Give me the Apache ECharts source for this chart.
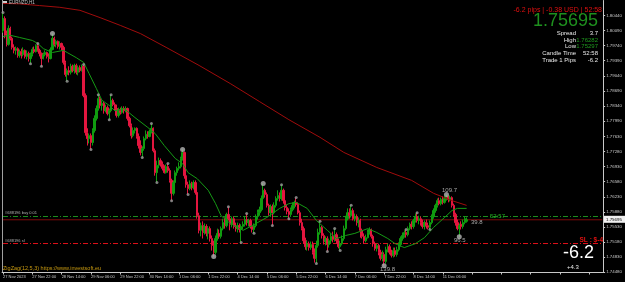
<!DOCTYPE html>
<html><head><meta charset="utf-8">
<script src="https://cdn.jsdelivr.net/npm/echarts@6/dist/echarts.min.js"></script>
<style>html,body{margin:0;padding:0;background:#000;overflow:hidden}#c{width:625px;height:282px}</style>
</head><body><div id="c"></div>
<script>
// x-axis tick labels, one every 16 hourly bars
const tickLabels = ['27 Nov 2023','27 Nov 22:00','28 Nov 14:00','29 Nov 06:00','29 Nov 22:00','30 Nov 14:00','1 Dec 06:00','1 Dec 22:00','4 Dec 14:00','5 Dec 06:00','5 Dec 22:00','6 Dec 14:00','7 Dec 06:00','7 Dec 22:00','8 Dec 14:00','11 Dec 06:00'];
// price scale labels
const priceTicks = [1.80440,1.80090,1.79740,1.79390,1.79040,1.78690,1.78340,1.77990,1.77630,1.77280,1.76930,1.76580,1.76230,1.75880,1.75530,1.75180,1.74830,1.74480];
// EURNZD H1 candles: [open, close, low, high]
const ohlc = [
[1.8009,1.8037,1.8004,1.8051],[1.8037,1.7998,1.7991,1.8042],[1.8002,1.7977,1.7972,1.8009],[1.7977,1.8014,1.7974,1.8021],[1.8014,1.7991,1.7986,1.8018],
[1.7991,1.7970,1.7965,1.7995],[1.7970,1.7963,1.7956,1.7977],[1.7963,1.7967,1.7953,1.7972],[1.7967,1.7951,1.7946,1.7970],[1.7951,1.7960,1.7946,1.7965],
[1.7960,1.7953,1.7944,1.7967],[1.7953,1.7963,1.7949,1.7970],[1.7963,1.7949,1.7944,1.7965],[1.7949,1.7956,1.7942,1.7963],[1.7956,1.7944,1.7937,1.7960],
[1.7944,1.7953,1.7932,1.7958],[1.7953,1.7965,1.7949,1.7970],[1.7965,1.7960,1.7956,1.7972],[1.7960,1.7974,1.7958,1.7977],[1.7974,1.7963,1.7960,1.7979],
[1.7963,1.7956,1.7949,1.7967],[1.7956,1.7944,1.7926,1.7958],[1.7944,1.7953,1.7942,1.7958],[1.7953,1.7958,1.7949,1.7963],[1.7958,1.7949,1.7944,1.7960],
[1.7949,1.7944,1.7935,1.7956],[1.7944,1.7965,1.7942,1.7970],[1.7965,1.7991,1.7963,1.8002],[1.7991,1.7977,1.7972,1.7995],[1.7977,1.7984,1.7970,1.7988],
[1.7984,1.7972,1.7967,1.7986],[1.7972,1.7979,1.7965,1.7984],[1.7979,1.7970,1.7963,1.7981],[1.7970,1.7935,1.7930,1.7974],[1.7935,1.7907,1.7902,1.7939],
[1.7907,1.7916,1.7891,1.7921],[1.7916,1.7912,1.7905,1.7926],[1.7912,1.7926,1.7907,1.7932],[1.7926,1.7916,1.7912,1.7930],[1.7916,1.7928,1.7909,1.7932],
[1.7928,1.7912,1.7907,1.7932],[1.7912,1.7923,1.7905,1.7928],[1.7923,1.7916,1.7912,1.7928],[1.7916,1.7926,1.7914,1.7930],[1.7926,1.7858,1.7854,1.7930],
[1.7858,1.7772,1.7765,1.7863],[1.7772,1.7758,1.7742,1.7782],[1.7758,1.7765,1.7747,1.7770],[1.7765,1.7749,1.7733,1.7770],[1.7749,1.7777,1.7742,1.7782],
[1.7777,1.7805,1.7772,1.7812],[1.7805,1.7828,1.7800,1.7835],[1.7828,1.7851,1.7823,1.7860],[1.7851,1.7835,1.7828,1.7856],[1.7835,1.7840,1.7823,1.7847],
[1.7840,1.7823,1.7816,1.7844],[1.7823,1.7830,1.7819,1.7837],[1.7830,1.7816,1.7812,1.7835],[1.7816,1.7823,1.7802,1.7828],[1.7823,1.7847,1.7819,1.7860],
[1.7847,1.7837,1.7833,1.7851],[1.7837,1.7828,1.7823,1.7842],[1.7828,1.7812,1.7807,1.7837],[1.7812,1.7823,1.7807,1.7830],[1.7823,1.7819,1.7814,1.7830],
[1.7819,1.7828,1.7816,1.7833],[1.7828,1.7823,1.7816,1.7833],[1.7823,1.7828,1.7819,1.7833],[1.7828,1.7805,1.7800,1.7830],[1.7805,1.7788,1.7784,1.7809],
[1.7788,1.7765,1.7758,1.7793],[1.7765,1.7777,1.7761,1.7784],[1.7777,1.7782,1.7770,1.7784],[1.7782,1.7763,1.7758,1.7784],[1.7763,1.7742,1.7735,1.7770],
[1.7742,1.7726,1.7719,1.7754],[1.7726,1.7735,1.7714,1.7740],[1.7735,1.7758,1.7730,1.7763],[1.7758,1.7768,1.7754,1.7777],[1.7768,1.7763,1.7758,1.7775],
[1.7763,1.7775,1.7761,1.7779],[1.7775,1.7782,1.7770,1.7793],[1.7782,1.7730,1.7726,1.7784],[1.7730,1.7679,1.7672,1.7735],[1.7679,1.7696,1.7656,1.7707],
[1.7696,1.7707,1.7689,1.7714],[1.7707,1.7698,1.7693,1.7712],[1.7698,1.7689,1.7684,1.7705],[1.7689,1.7679,1.7677,1.7696],[1.7679,1.7693,1.7677,1.7698],
[1.7693,1.7684,1.7679,1.7700],[1.7684,1.7661,1.7656,1.7689],[1.7661,1.7631,1.7614,1.7665],[1.7631,1.7656,1.7626,1.7661],[1.7656,1.7679,1.7649,1.7684],
[1.7679,1.7689,1.7672,1.7693],[1.7689,1.7693,1.7684,1.7703],[1.7693,1.7712,1.7689,1.7716],[1.7712,1.7726,1.7707,1.7733],[1.7726,1.7672,1.7665,1.7728],
[1.7672,1.7651,1.7644,1.7679],[1.7651,1.7642,1.7628,1.7658],[1.7642,1.7654,1.7638,1.7661],[1.7654,1.7644,1.7638,1.7658],[1.7644,1.7656,1.7640,1.7661],
[1.7656,1.7633,1.7628,1.7661],[1.7633,1.7579,1.7572,1.7638],[1.7579,1.7545,1.7538,1.7586],[1.7545,1.7556,1.7531,1.7563],[1.7556,1.7540,1.7526,1.7566],
[1.7540,1.7554,1.7535,1.7561],[1.7554,1.7538,1.7531,1.7559],[1.7538,1.7549,1.7524,1.7554],[1.7549,1.7526,1.7519,1.7554],[1.7526,1.7510,1.7498,1.7533],
[1.7510,1.7494,1.7484,1.7521],[1.7494,1.7526,1.7489,1.7533],[1.7526,1.7538,1.7521,1.7549],[1.7538,1.7531,1.7526,1.7547],[1.7531,1.7549,1.7526,1.7554],
[1.7549,1.7563,1.7545,1.7572],[1.7563,1.7556,1.7549,1.7575],[1.7556,1.7582,1.7552,1.7586],[1.7582,1.7572,1.7568,1.7600],[1.7572,1.7559,1.7545,1.7579],
[1.7559,1.7572,1.7552,1.7577],[1.7572,1.7554,1.7549,1.7577],[1.7554,1.7549,1.7542,1.7563],[1.7549,1.7556,1.7540,1.7563],[1.7556,1.7547,1.7540,1.7561],
[1.7547,1.7554,1.7517,1.7559],[1.7554,1.7559,1.7547,1.7566],[1.7559,1.7570,1.7554,1.7577],[1.7570,1.7563,1.7556,1.7584],[1.7563,1.7568,1.7554,1.7572],
[1.7568,1.7554,1.7549,1.7572],[1.7554,1.7547,1.7540,1.7561],[1.7547,1.7556,1.7538,1.7561],[1.7556,1.7577,1.7552,1.7582],[1.7577,1.7586,1.7570,1.7593],
[1.7586,1.7593,1.7579,1.7600],[1.7593,1.7619,1.7589,1.7626],[1.7619,1.7638,1.7612,1.7654],[1.7638,1.7628,1.7621,1.7642],[1.7628,1.7603,1.7598,1.7633],
[1.7603,1.7586,1.7579,1.7607],[1.7586,1.7600,1.7577,1.7605],[1.7600,1.7586,1.7556,1.7605],[1.7586,1.7603,1.7582,1.7610],[1.7603,1.7619,1.7598,1.7624],
[1.7619,1.7626,1.7614,1.7638],[1.7626,1.7619,1.7612,1.7633],[1.7619,1.7638,1.7614,1.7651],[1.7638,1.7614,1.7607,1.7642],[1.7614,1.7598,1.7591,1.7621],
[1.7598,1.7589,1.7582,1.7605],[1.7589,1.7582,1.7572,1.7596],[1.7582,1.7593,1.7577,1.7598],[1.7593,1.7603,1.7589,1.7610],[1.7603,1.7610,1.7596,1.7614],
[1.7610,1.7605,1.7600,1.7621],[1.7605,1.7586,1.7582,1.7610],[1.7586,1.7563,1.7556,1.7591],[1.7563,1.7549,1.7545,1.7572],[1.7549,1.7521,1.7514,1.7554],
[1.7521,1.7507,1.7500,1.7528],[1.7507,1.7514,1.7498,1.7521],[1.7514,1.7505,1.7498,1.7519],[1.7505,1.7512,1.7500,1.7519],[1.7512,1.7494,1.7489,1.7519],
[1.7494,1.7480,1.7470,1.7503],[1.7480,1.7510,1.7468,1.7521],[1.7510,1.7540,1.7505,1.7549],[1.7540,1.7552,1.7535,1.7566],[1.7552,1.7533,1.7526,1.7556],
[1.7533,1.7519,1.7512,1.7538],[1.7519,1.7526,1.7510,1.7531],[1.7526,1.7512,1.7496,1.7531],[1.7512,1.7521,1.7505,1.7526],[1.7521,1.7531,1.7514,1.7538],
[1.7531,1.7524,1.7517,1.7542],[1.7524,1.7535,1.7519,1.7549],[1.7535,1.7521,1.7514,1.7540],[1.7521,1.7507,1.7503,1.7526],[1.7507,1.7514,1.7498,1.7521],
[1.7514,1.7526,1.7510,1.7533],[1.7526,1.7549,1.7521,1.7556],[1.7549,1.7572,1.7545,1.7579],[1.7572,1.7586,1.7568,1.7596],[1.7586,1.7579,1.7572,1.7596],
[1.7579,1.7591,1.7575,1.7603],[1.7591,1.7572,1.7568,1.7596],[1.7572,1.7577,1.7566,1.7584],[1.7577,1.7563,1.7556,1.7582],[1.7563,1.7568,1.7552,1.7575],
[1.7568,1.7545,1.7528,1.7572],[1.7545,1.7531,1.7526,1.7549],[1.7531,1.7521,1.7514,1.7538],[1.7521,1.7528,1.7517,1.7535],[1.7528,1.7540,1.7526,1.7547],
[1.7540,1.7547,1.7535,1.7552],[1.7547,1.7531,1.7526,1.7549],[1.7531,1.7514,1.7507,1.7535],[1.7514,1.7503,1.7498,1.7519],[1.7503,1.7510,1.7496,1.7514],
[1.7510,1.7494,1.7487,1.7514],[1.7494,1.7480,1.7475,1.7500],[1.7480,1.7489,1.7473,1.7498],[1.7489,1.7473,1.7463,1.7494],[1.7473,1.7500,1.7468,1.7507],
[1.7500,1.7507,1.7494,1.7514],[1.7507,1.7494,1.7489,1.7512],[1.7494,1.7487,1.7482,1.7500],[1.7487,1.7498,1.7482,1.7505],[1.7498,1.7489,1.7484,1.7505],
[1.7489,1.7500,1.7484,1.7507],[1.7500,1.7512,1.7496,1.7517],[1.7512,1.7526,1.7507,1.7531],[1.7526,1.7533,1.7521,1.7540],[1.7533,1.7540,1.7528,1.7545],
[1.7540,1.7535,1.7528,1.7547],[1.7535,1.7549,1.7531,1.7554],[1.7549,1.7559,1.7545,1.7563],[1.7559,1.7554,1.7547,1.7566],[1.7554,1.7568,1.7549,1.7572],
[1.7568,1.7577,1.7563,1.7584],[1.7577,1.7568,1.7563,1.7586],[1.7568,1.7572,1.7559,1.7579],[1.7572,1.7563,1.7556,1.7577],[1.7563,1.7554,1.7549,1.7570],
[1.7554,1.7563,1.7547,1.7568],[1.7563,1.7556,1.7549,1.7570],[1.7556,1.7552,1.7547,1.7563],[1.7552,1.7563,1.7547,1.7568],[1.7563,1.7577,1.7559,1.7582],
[1.7577,1.7591,1.7572,1.7596],[1.7591,1.7603,1.7586,1.7607],[1.7603,1.7614,1.7598,1.7619],[1.7614,1.7607,1.7603,1.7621],[1.7607,1.7617,1.7603,1.7621],
[1.7617,1.7610,1.7605,1.7624],[1.7610,1.7619,1.7607,1.7626],[1.7619,1.7624,1.7614,1.7628],[1.7624,1.7617,1.7610,1.7626],[1.7617,1.7621,1.7612,1.7626],
[1.7621,1.7603,1.7598,1.7624],[1.7603,1.7582,1.7577,1.7607],[1.7582,1.7563,1.7556,1.7586],[1.7563,1.7549,1.7545,1.7570],[1.7549,1.7556,1.7530,1.7561],
[1.7559,1.7554,1.7547,1.7566],[1.7554,1.7563,1.7549,1.7570],[1.7563,1.7572,1.7559,1.7577],[1.7566,1.75695,1.7563,1.7575]
];
// slow moving average (dark red), [barIndex, value]
const maSlow = [[0,1.8072],[9,1.8071],[20,1.8067],[31,1.8063],[42,1.8056],[53,1.8039],[64,1.8021],[75,1.8002],[89,1.7970],[107,1.7928],[124,1.7886],[140,1.7844],[156,1.7802],[173,1.7761],[186,1.7726],[204,1.7691],[223,1.7661],[235,1.7631],[245,1.7614],[253,1.7603]];
// fast moving average (green), [barIndex, value]
const maFast = [[0,1.7995],[4,1.7998],[9,1.7993],[16,1.7986],[19,1.7979],[22,1.7967],[27,1.7958],[33,1.7963],[35,1.7958],[40,1.7946],[44,1.7935],[47,1.7909],[51,1.7874],[54,1.7847],[58,1.7835],[61,1.7823],[66,1.7828],[72,1.7807],[79,1.7784],[83,1.7770],[88,1.7742],[94,1.7712],[98,1.7700],[101,1.7679],[106,1.7665],[112,1.7638],[116,1.7607],[119,1.7579],[124,1.7561],[131,1.7545],[136,1.7556],[144,1.7575],[151,1.7596],[156,1.7607],[160,1.7610],[166,1.7596],[171,1.7568],[177,1.7545],[182,1.7526],[187,1.7533],[192,1.7538],[199,1.7549],[204,1.7540],[210,1.7526],[214,1.7514],[219,1.7505],[225,1.7514],[230,1.7528],[235,1.7552],[241,1.7575],[245,1.7591],[248,1.7596],[253,1.7596]];
// ZigZag swing markers
const zigzagMinor = [[0,1.8051],[15,1.7932],[19,1.7979],[21,1.7926],[35,1.7891],[44,1.7930],[48,1.7733],[52,1.7860],[58,1.7802],[59,1.7860],[76,1.7714],[81,1.7793],[84,1.7656],[90,1.7700],[92,1.7614],[101,1.7628],[123,1.7600],[130,1.7517],[133,1.7584],[137,1.7538],[147,1.7556],[152,1.7651],[156,1.7572],[160,1.7621],[171,1.7468],[173,1.7566],[177,1.7496],[181,1.7549],[184,1.7498],[190,1.7603],[220,1.7547],[226,1.7586],[233,1.7547]];
const zigzagMajor = [[27,1.8002],[98,1.7733],[115,1.7484],[142,1.7654],[208,1.7463],[242,1.7628],[249,1.7530]];
const entryPrice = 1.75771, bidPrice = 1.75695, slPrice = 1.75144;

const TOTAL_SLOTS = 328;
const cats = [];
for (let i = 0; i < TOTAL_SLOTS; i++) cats.push(String(i));

const GREEN = '#109c10', RED = '#e3163f', AX = '#c8c8c8';
const FONT = 'Liberation Sans, Arial, sans-serif';
const chart = echarts.init(document.getElementById('c'), null, {renderer: 'canvas'});

function txt(x, y, s, color, size, align, weight) {
  return {type: 'text', x: x, y: y, silent: true, z: 100,
    style: {text: s, fill: color, font: (weight ? weight + ' ' : '') + size + 'px ' + FONT, align: align || 'left', verticalAlign: 'middle'}};
}
function level(price, color, type) {
  return {type: 'line', data: [[0, price], [TOTAL_SLOTS - 1, price]], symbol: 'none', silent: true, z: 1,
    lineStyle: {color: color, width: 1, type: type, opacity: 1}, emphasis: {disabled: true}};
}

chart.setOption({
  backgroundColor: '#000',
  animation: false,
  grid: {left: 2, right: 21, top: 0.5, bottom: 9.5, containLabel: false},
  xAxis: {
    type: 'category', data: cats, boundaryGap: true,
    axisLine: {show: true, lineStyle: {color: AX, width: 1}},
    axisTick: {show: true, interval: 15, alignWithLabel: true, length: 2, lineStyle: {color: AX}},
    axisLabel: {interval: 15, color: AX, fontSize: 4, fontFamily: FONT, align: 'left', margin: 2,
      formatter: (v, idx) => (idx % 16 === 0 && tickLabels[idx / 16] !== undefined) ? tickLabels[idx / 16] : ''},
    splitLine: {show: false}
  },
  yAxis: {
    type: 'value', position: 'right', min: 1.74471, max: 1.80788, scale: true,
    axisLine: {show: true, lineStyle: {color: AX, width: 1}},
    axisTick: {show: true, length: 2, customValues: priceTicks, lineStyle: {color: AX}},
    axisLabel: {customValues: priceTicks, color: AX, fontSize: 4.4, fontFamily: FONT, margin: 3,
      formatter: v => v.toFixed(5)},
    splitLine: {show: false}
  },
  series: [
    level(entryPrice, '#1d8f1d', [5, 2, 1, 2]),
    level(bidPrice, '#7c0a0a', 'solid'),
    level(slPrice, '#e0101a', [5, 2, 1, 2]),
    {type: 'candlestick', data: ohlc, barWidth: 1.8, z: 2,
      itemStyle: {color: GREEN, color0: RED, borderColor: GREEN, borderColor0: RED, borderWidth: 1}},
    {type: 'line', data: maFast, symbol: 'none', z: 3, lineStyle: {color: '#159a15', width: 1}},
    {type: 'line', data: maSlow, symbol: 'none', z: 3, lineStyle: {color: '#a00c0c', width: 1}},
    {type: 'scatter', data: zigzagMinor, symbolSize: 3, z: 4, itemStyle: {color: '#9c9c9c'}},
    {type: 'scatter', data: zigzagMajor, symbolSize: 5, z: 4, itemStyle: {color: '#b4b4b4'}}
  ],
  graphic: [
    {type: 'line', shape: {x1: 2.5, y1: 0, x2: 2.5, y2: 272}, style: {stroke: '#a0a0a0', lineWidth: 1}, silent: true},
    {type: 'rect', shape: {x: 3, y: 1, width: 4, height: 3}, style: {fill: '#d0d0d0'}, silent: true},
    txt(9, 3, 'EURNZD,H1', '#c0c0c0', 4.5),
    txt(602, 10, '-6.2 pips | -0.38 USD | 52:58', '#e01010', 7, 'right'),
    txt(598, 21.5, '1.75695', '#1e901e', 18, 'right'),
    txt(576, 33.3, 'Spread', '#e8e8e8', 6, 'right'), txt(598, 33.3, '3.7', '#e8e8e8', 6, 'right'),
    txt(576, 40, 'High', '#e8e8e8', 6, 'right'), txt(598, 40, '1.76282', '#1e9a1e', 6, 'right'),
    txt(576, 46.7, 'Low', '#e8e8e8', 6, 'right'), txt(598, 46.7, '1.75297', '#1e9a1e', 6, 'right'),
    txt(576, 53.3, 'Candle Time', '#e8e8e8', 6, 'right'), txt(598, 53.3, '52:58', '#e8e8e8', 6, 'right'),
    txt(576, 60.7, 'Trade 1 Pips', '#e8e8e8', 6, 'right'), txt(598, 60.7, '-6.2', '#e8e8e8', 6, 'right'),
    txt(5, 213, '#688196 buy 0.01', '#b0b0b0', 4),
    txt(5, 240.5, '#688196 sl', '#b0b0b0', 4),
    txt(490, 216, '52:57', '#22b022', 6),
    txt(603, 240, 'SL : $-4', '#e01010', 6.5, 'right', 'bold'),
    txt(563, 253.5, '-6.2', '#ffffff', 18),
    txt(567, 267, '+4.3', '#e8e8e8', 6),
    txt(442, 190.7, '109.7', '#a8a8a8', 6),
    txt(471, 222.7, '39.8', '#a8a8a8', 6),
    txt(454, 240, '96.5', '#a8a8a8', 6),
    txt(380, 269, '139.8', '#a8a8a8', 6),
    txt(3, 268, 'ZigZag(12,5,3) https://www.investsoft.eu', '#c89a10', 5.5),
    {type: 'rect', shape: {x: 604, y: 215.8, width: 21, height: 7}, style: {fill: '#f0f0f0'}, silent: true, z: 100},
    txt(606, 219.3, '1.75695', '#000000', 4.4)
  ]
});
</script></body></html>
